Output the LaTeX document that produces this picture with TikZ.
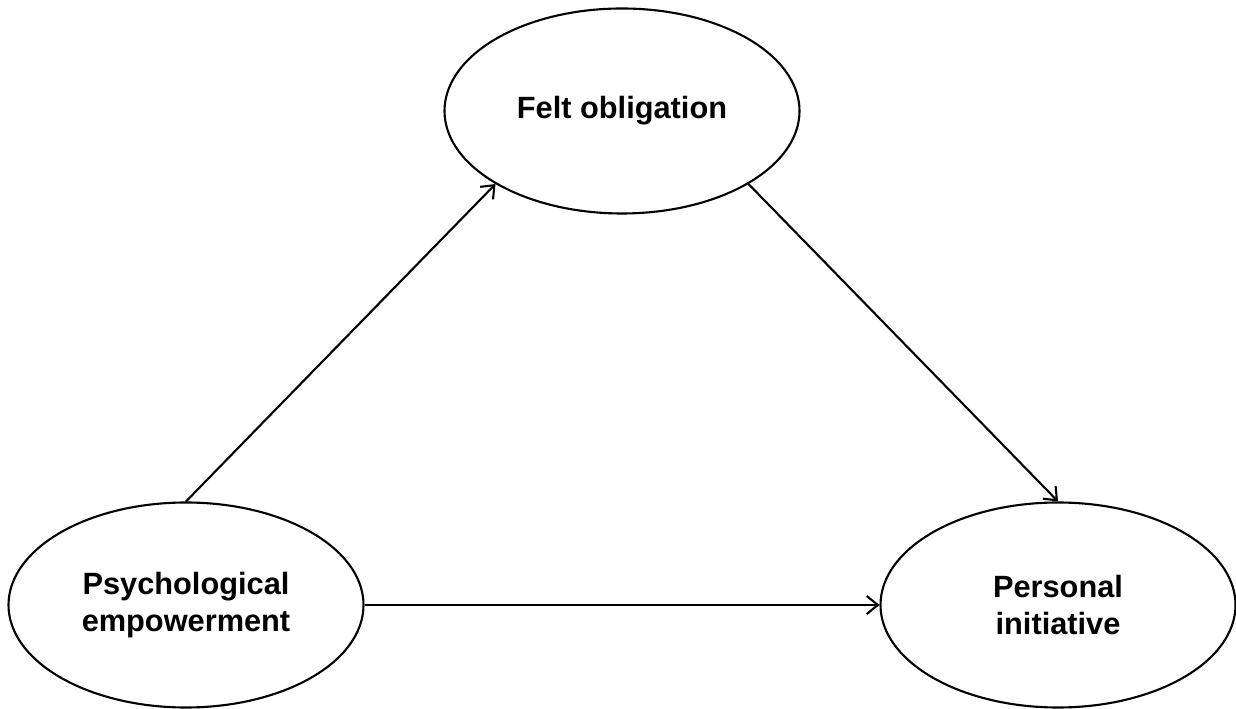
\documentclass[tikz,border=0pt]{standalone}
\usepackage{fontspec}
\setmainfont{Liberation Sans}
\usetikzlibrary{shapes.geometric, arrows.meta}

\begin{document}
\begin{tikzpicture}[>={Straight Barb[length=2.2mm, width=3.6mm]}, line width=1.2pt,
    bien/.style={draw, ellipse, inner sep=0pt, minimum width=7.1cm, minimum height=4.1cm,
        align=center, font=\fontsize{17.5}{21}\selectfont\bfseries}]
    \useasboundingbox (0,0) rectangle (24.72,14.18);

    % Các biến
    \node[bien] (fo) at (12.44,11.96) {Felt obligation};
    \node[bien] (pe) at (3.72,2.08) {Psychological\\empowerment};
    \node[bien] (pi) at (21.16,2.08) {Personal\\initiative};

    % Các mũi tên
    \draw[->] (pe.north) -- (fo.210);
    \draw[->] (fo.330) -- (pi.north);
    \draw[->] (pe) -- (pi);

\end{tikzpicture}
\end{document}
